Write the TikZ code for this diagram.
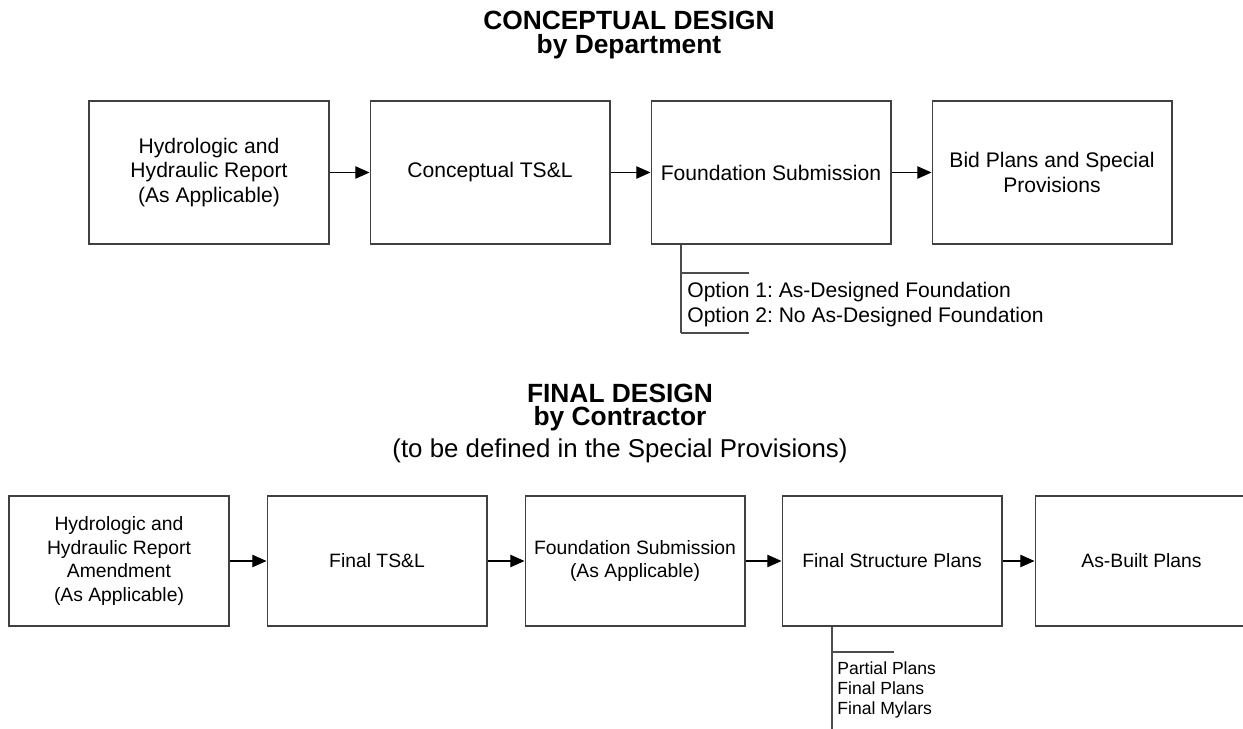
\documentclass[tikz,border=0pt]{standalone}
\usepackage{fontspec}
\setmainfont{Liberation Sans}
\frenchspacing
\usetikzlibrary{positioning, arrows.meta}

\begin{document}
\begin{tikzpicture}[
  x=0.02cm, y=-0.02cm,
  font=\fontsize{12}{13.9}\selectfont,
  stage/.style={draw=black!75, line width=0.6pt, minimum width=4.8cm, minimum height=2.86cm, inner sep=2pt, align=center},
  stagelo/.style={stage, font=\fontsize{11}{13.4}\selectfont, minimum width=4.4cm, minimum height=2.6cm},
  arr/.style={-{Triangle[length=8pt, width=7pt]}, line width=0.6pt},
  tie/.style={draw=black!70, line width=0.6pt},
  ttl/.style={font=\fontsize{15}{13.6}\selectfont\bfseries, align=center},
  notes/.style={anchor=west, align=left, inner sep=0pt},
]
\useasboundingbox (0,0) rectangle (1243,729);

% --- conceptual design row ---
\node[ttl] (ttlA) at (629,35) {CONCEPTUAL DESIGN\\by Department};

\node[stage] (hhr) at (209,172.5) {Hydrologic and\\Hydraulic Report\\(As Applicable)};
\node[stage, right=0.8cm of hhr]  (tsl)  {Conceptual TS\&L};
\node[stage, right=0.8cm of tsl]  (fsub) {Foundation Submission};
\node[stage, right=0.8cm of fsub] (bid)  {Bid Plans and Special\\Provisions};

\draw[arr] (hhr) -- (tsl);
\draw[arr] (tsl) -- (fsub);
\draw[arr] (fsub) -- (bid);

% options bracket under foundation submission
\coordinate (optA) at (681,273);
\coordinate (optB) at (681,333);
\draw[tie] (fsub.south -| optA) -- (optB);
\draw[tie] (optA) -- ++(68,0);
\draw[tie] (optB) -- ++(68,0);
\node[notes, font=\fontsize{12}{14.2}\selectfont] (opts) at (687,304.5)
  {Option 1: As-Designed Foundation\\Option 2: No As-Designed Foundation};

% --- final design row ---
\node[ttl] (ttlB) at (620,407.5) {FINAL DESIGN\\by Contractor};
\node[font=\fontsize{14.7}{17}\selectfont] (ttlnote) at (620,451)
  {(to be defined in the Special Provisions)};

\node[stagelo] (hhra) at (119,561) {Hydrologic and\\Hydraulic Report\\Amendment\\(As Applicable)};
\node[stagelo, right=0.74cm of hhra] (ftsl)  {Final TS\&L};
\node[stagelo, right=0.74cm of ftsl] (ffsub) {Foundation Submission\\(As Applicable)};
\node[stagelo, right=0.72cm of ffsub] (fsp)  {Final Structure Plans};
\node[stagelo, minimum width=4.26cm, right=0.64cm of fsp] (abp) {As-Built Plans};

\draw[arr] (hhra) -- (ftsl);
\draw[arr] (ftsl) -- (ffsub);
\draw[arr] (ffsub) -- (fsp);
\draw[arr] (fsp) -- (abp);

% plan sets bracket under final structure plans
\coordinate (shA) at (832,652);
\coordinate (shB) at (832,729);
\draw[tie] (fsp.south -| shA) -- (shB);
\draw[tie] (shA) -- ++(62,0);
\node[notes, font=\fontsize{10}{11.4}\selectfont] (sheets) at (837,689.5)
  {Partial Plans\\Final Plans\\Final Mylars};

\end{tikzpicture}
\end{document}
